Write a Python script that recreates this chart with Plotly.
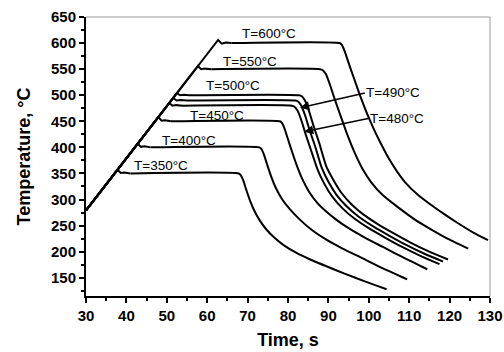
import plotly.graph_objects as go

# ---- data (time in s, temperature in °C) ----
t_350 = [30, 37.8, 38.6, 39.5, 41, 67.8, 68.3, 68.9, 69.7, 70.6, 71.7, 73.0, 74.6, 76.6, 79, 82, 85.5, 89.5, 94, 99, 104.4]
T_350 = [279, 357, 351, 352, 350, 350, 347, 337, 318, 298, 278, 260, 243, 227, 212, 198, 185, 172, 158, 143, 128]

t_400 = [30, 42.8, 43.6, 44.5, 46, 72.9, 73.4, 74.0, 74.8, 75.8, 77.0, 78.5, 80.5, 83, 86, 89.5, 93.5, 98, 103.5, 109.5]
T_400 = [279, 407, 401, 402, 400, 400, 397, 387, 368, 345, 322, 301, 281, 261, 241, 223, 206, 189, 168, 147]

t_450 = [30, 47.9, 48.7, 49.6, 51, 78.0, 78.5, 79.1, 79.9, 80.9, 82.1, 83.5, 85.2, 87.3, 89.6, 92, 95, 99, 103.5, 109, 114.5]
T_450 = [279, 458, 451, 452, 450, 450, 447, 437, 418, 394, 367, 340, 315, 293, 276, 261, 245, 227, 209, 187, 166]

t_480 = [30, 50.6, 51.4, 52.3, 54, 80.9, 81.6, 82.4, 83.3, 84.5, 85.9, 87.3, 89.0, 91.0, 93.5, 96.5, 100, 104, 108, 112.5, 117.5]
T_480 = [279, 485, 480, 481, 480, 480, 478, 470, 452, 422, 390, 358, 330, 305, 283, 263, 245, 227, 210, 193, 176]

t_490 = [30, 51.6, 52.4, 53.3, 55, 81.8, 82.5, 83.3, 84.2, 85.4, 86.8, 88.3, 90.0, 92.0, 94.5, 97.5, 101, 105, 109, 113.5, 118.4]
T_490 = [279, 495, 490, 491, 490, 490, 488, 480, 462, 432, 400, 362, 334, 309, 287, 267, 249, 231, 214, 197, 181]

t_500 = [30, 52.5, 53.3, 54.2, 55.5, 82.7, 83.4, 84.2, 85.1, 86.3, 87.7, 89.5, 91.2, 93.2, 95.7, 98.7, 102.2, 106.2, 110.2, 114.7, 119.6]
T_500 = [279, 504, 500, 501, 500, 500, 498, 490, 472, 442, 409, 363, 338, 313, 291, 271, 253, 235, 218, 201, 185]

t_550 = [30, 57.7, 58.5, 59.4, 61, 87.9, 88.6, 89.4, 90.3, 91.5, 93.0, 94.8, 96.6, 98.5, 100.6, 103.5, 107.6, 111.5, 115.8, 120, 124.6]
T_550 = [279, 556, 550, 551, 550, 550, 548, 540, 522, 494, 461, 422, 388, 358, 333, 308, 283, 261, 241, 223, 206]

t_600 = [30, 62.7, 63.6, 64.6, 66, 92.8, 93.3, 94.0, 95.0, 96.3, 97.8, 99.5, 101.3, 103.2, 105, 106.8, 109, 112, 115, 118.5, 122, 126, 129.5]
T_600 = [279, 606, 599, 601, 600, 600, 597, 585, 562, 533, 500, 466, 434, 404, 378, 356, 333, 310, 292, 273, 255, 236, 222]

curve_labels = ["T=350°C", "T=400°C", "T=450°C", "T=500°C", "T=550°C", "T=600°C"]
label_t = [48.6, 55.5, 62.5, 66.5, 70.6, 75.2]
label_T = [366, 413, 461, 519, 565, 618]

arrow_labels = ["T=490°C", "T=480°C"]
arrow_tail_t = [99.4, 100.2]
arrow_tail_T = [505, 456]
arrow_head_t = [83.0, 84.0]
arrow_head_T = [476, 430]

x_ticks = [30, 40, 50, 60, 70, 80, 90, 100, 110, 120, 130]
y_ticks = [150, 200, 250, 300, 350, 400, 450, 500, 550, 600, 650]

FONT = "Liberation Sans, Arial, Helvetica, sans-serif"
HOLD_START = 4  # index where the isothermal hold begins in every series

fig = go.Figure()
for tt, TT in [(t_350, T_350), (t_400, T_400), (t_450, T_450), (t_480, T_480),
               (t_490, T_490), (t_500, T_500), (t_550, T_550), (t_600, T_600)]:
    # heating ramp + overshoot: straight segments
    fig.add_trace(go.Scatter(x=tt[:HOLD_START + 1], y=TT[:HOLD_START + 1], mode="lines",
                             line=dict(color="black", width=2, shape="linear"),
                             showlegend=False, hoverinfo="skip"))
    # hold + cooling: smooth curve
    fig.add_trace(go.Scatter(x=tt[HOLD_START:], y=TT[HOLD_START:], mode="lines",
                             line=dict(color="black", width=2, shape="spline", smoothing=0.6),
                             showlegend=False, hoverinfo="skip"))

for txt, xx, yy in zip(curve_labels, label_t, label_T):
    fig.add_annotation(x=xx, y=yy, text=txt, showarrow=False, xanchor="center", yanchor="middle",
                       font=dict(family=FONT, size=13.5, color="black"))

for txt, tx, ty, hx, hy in zip(arrow_labels, arrow_tail_t, arrow_tail_T, arrow_head_t, arrow_head_T):
    fig.add_annotation(x=hx, y=hy, ax=tx, ay=ty, axref="x", ayref="y", xref="x", yref="y",
                       text="", showarrow=True, arrowhead=2, arrowsize=1.3, arrowwidth=1.4,
                       arrowcolor="black")
    fig.add_annotation(x=tx, y=ty, text=txt, showarrow=False, xanchor="left", yanchor="middle",
                       xshift=-2, font=dict(family=FONT, size=13.5, color="black"))

# thin grey frame on top and right
fig.add_shape(type="line", xref="paper", yref="paper", x0=0, x1=1, y0=1, y1=1,
              line=dict(color="#9a9a9a", width=1))
fig.add_shape(type="line", xref="paper", yref="paper", x0=1, x1=1, y0=0, y1=1,
              line=dict(color="#9a9a9a", width=1))

axis_common = dict(showgrid=False, zeroline=False, showline=True, linecolor="black", linewidth=2,
                   ticks="outside", ticklen=5, tickwidth=1.5, tickcolor="black",
                   tickfont=dict(family=FONT, size=15, color="black", weight="bold"))

fig.update_xaxes(range=[30, 130], tickvals=x_ticks, ticktext=[str(v) for v in x_ticks],
                 minor=dict(dtick=5, tick0=30, ticks="outside", ticklen=3, tickwidth=1.5, tickcolor="black"),
                 title=dict(text="Time, s", font=dict(family=FONT, size=18, color="black", weight="bold"),
                            standoff=10),
                 **axis_common)
fig.update_yaxes(range=[115, 650], tickvals=y_ticks, ticktext=[str(v) for v in y_ticks],
                 minor=dict(dtick=25, tick0=125, ticks="outside", ticklen=3, tickwidth=1.5, tickcolor="black"),
                 title=dict(text="Temperature, °C", font=dict(family=FONT, size=18, color="black", weight="bold"),
                            standoff=16),
                 **axis_common)

fig.update_layout(width=504, height=352, paper_bgcolor="white", plot_bgcolor="white",
                  margin=dict(l=86, r=14, t=17, b=56, autoexpand=False),
                  font=dict(family=FONT, color="black"))

fig.write_html("out.html", config={"displayModeBar": False},
               post_script="document.body.style.margin='0';")
